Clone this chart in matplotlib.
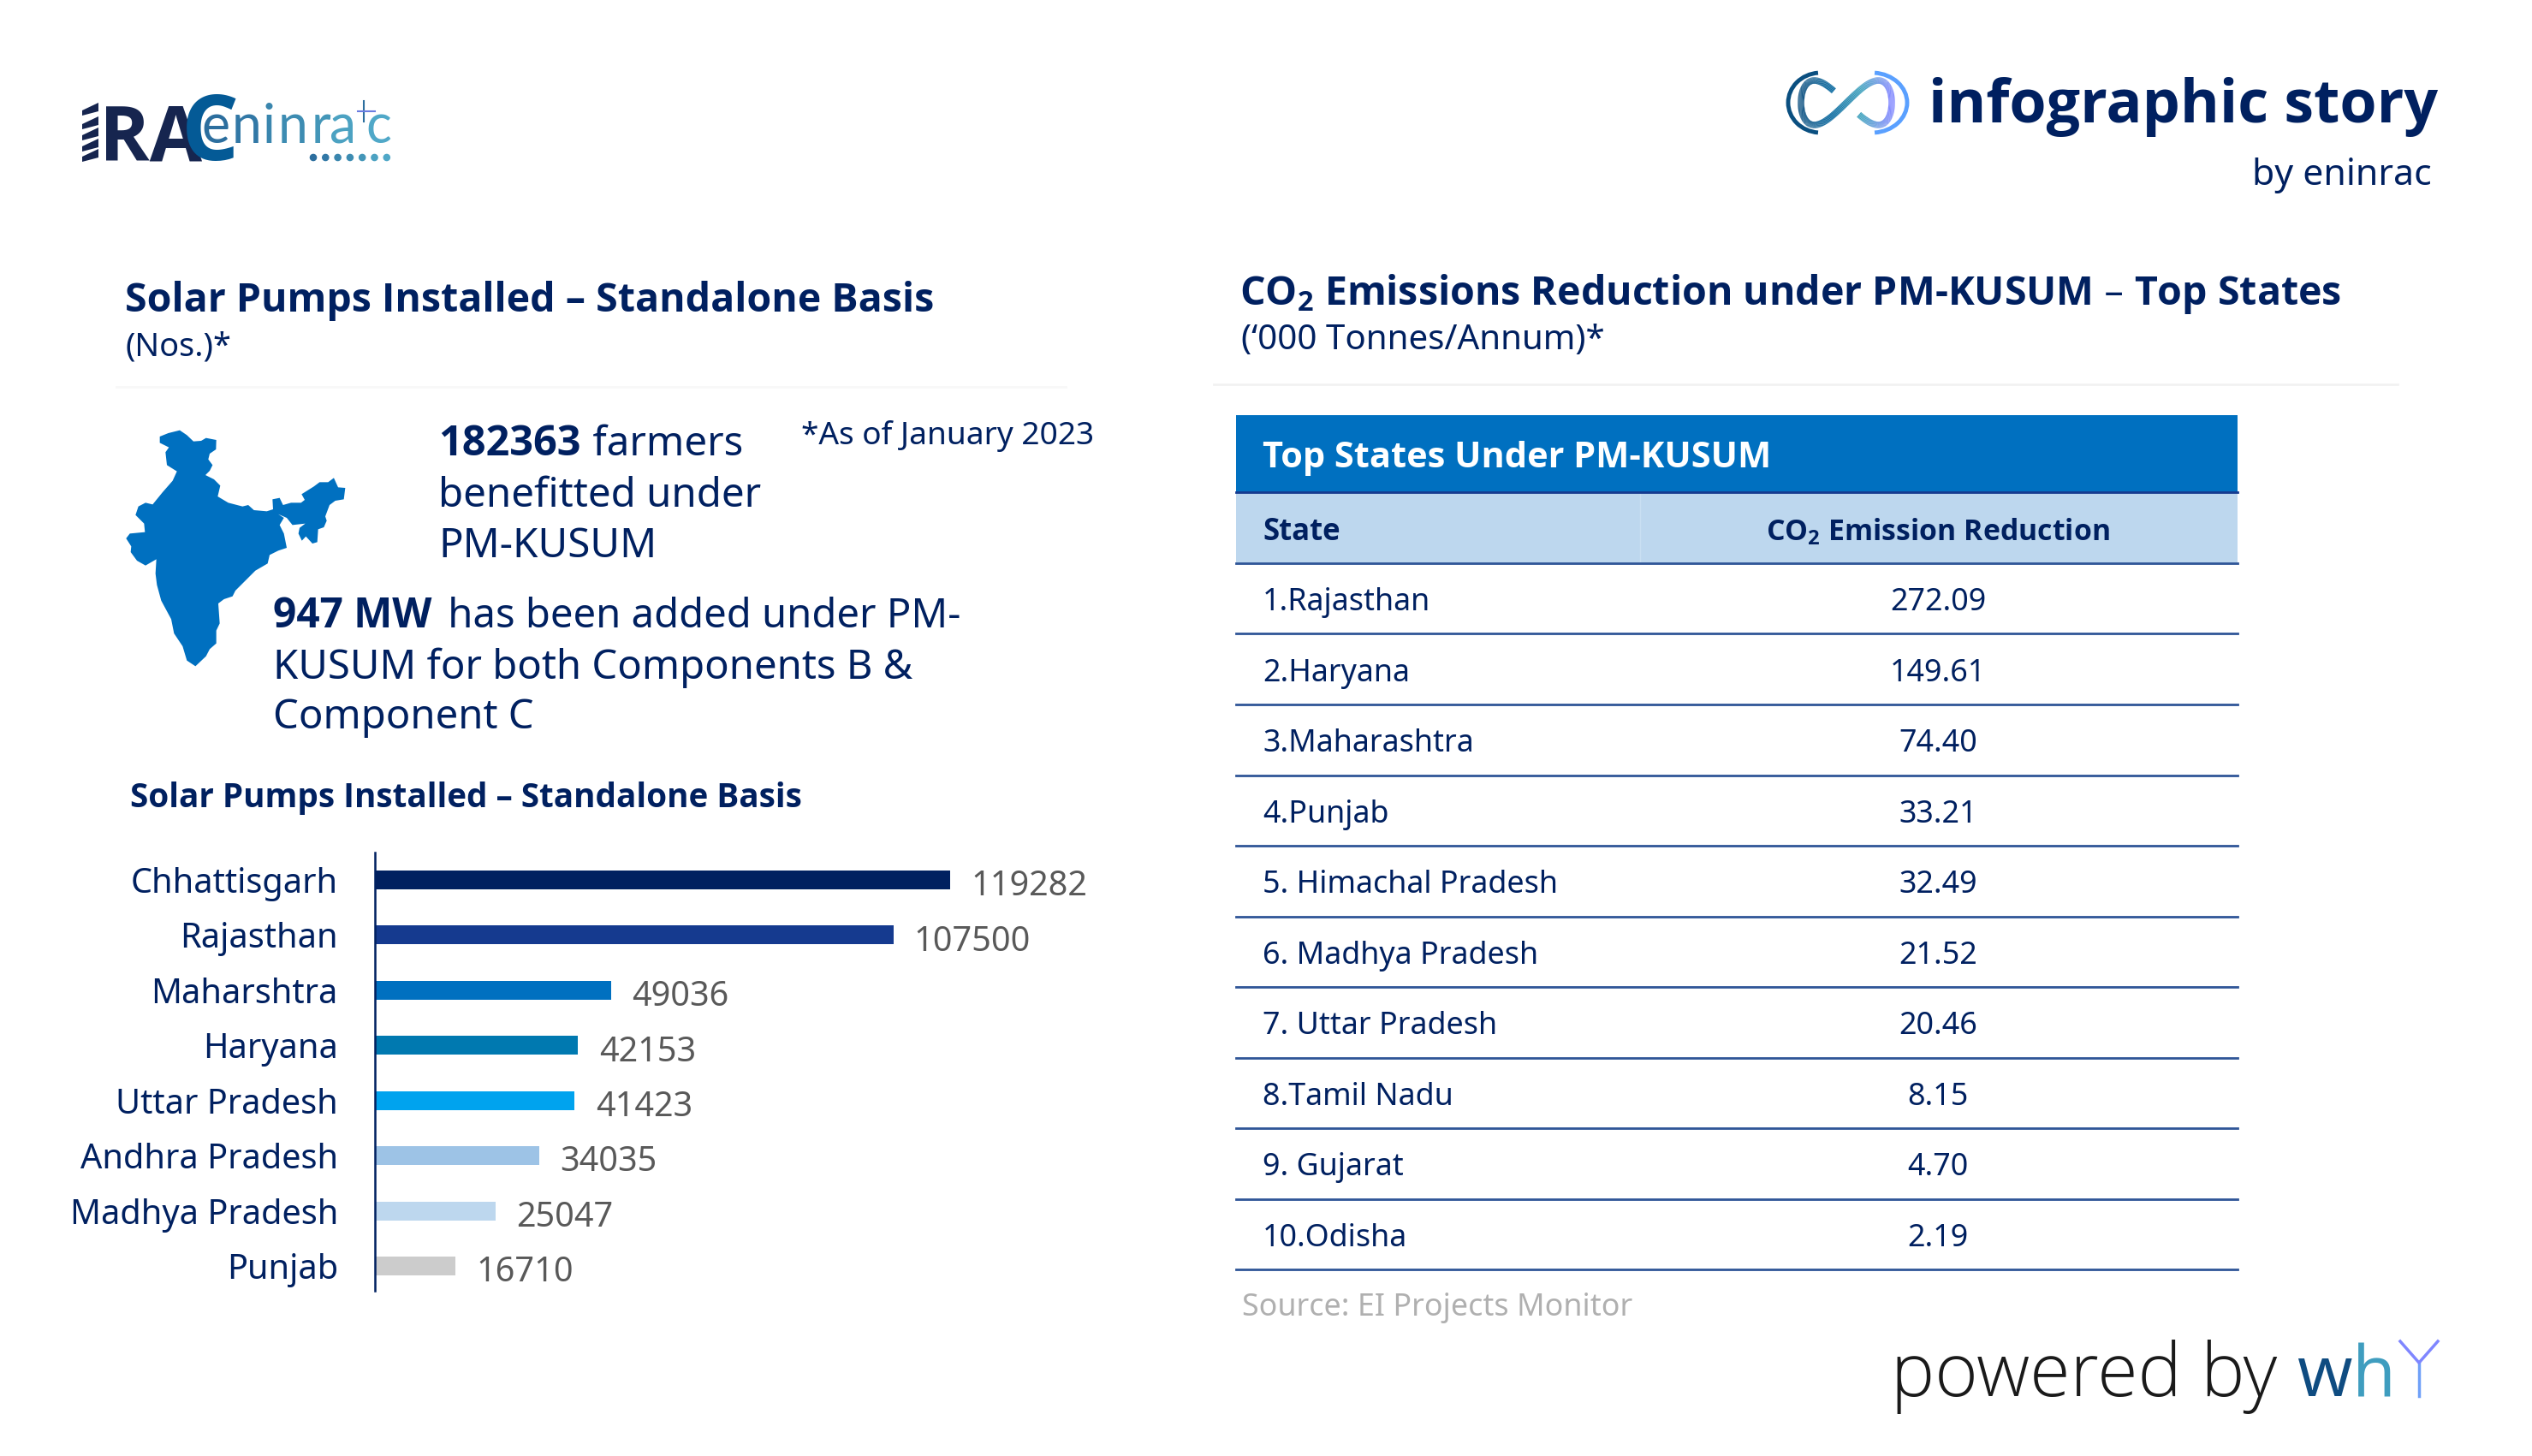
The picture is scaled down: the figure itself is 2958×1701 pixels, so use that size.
import numpy as np
import matplotlib
matplotlib.use("Agg")
import matplotlib.pyplot as plt
from matplotlib.patches import Polygon, Rectangle, Arc, Circle
from matplotlib.collections import LineCollection
from matplotlib.colors import LinearSegmentedColormap

W, H = 2958, 1701
NAVY = "#002060"
BLUE = "#0070C0"
GREY = "#595959"

# bar chart data
states = ["Chhattisgarh", "Rajasthan", "Maharshtra", "Haryana", "Uttar Pradesh",
          "Andhra Pradesh", "Madhya Pradesh", "Punjab"]
pumps = [119282, 107500, 49036, 42153, 41423, 34035, 25047, 16710]
bar_colors = ["#002060", "#153A8F", "#0070C0", "#0079B0", "#00A3EE", "#9DC3E6", "#BDD7EE", "#CCCCCC"]

# table data
table_states = ["1.Rajasthan", "2.Haryana", "3.Maharashtra", "4.Punjab", "5. Himachal Pradesh",
                "6. Madhya Pradesh", "7. Uttar Pradesh", "8.Tamil Nadu", "9. Gujarat", "10.Odisha"]
table_values = ["272.09", "149.61", "74.40", "33.21", "32.49", "21.52", "20.46", "8.15", "4.70", "2.19"]

# outline of the map, in zoomed pixels
india_x = [200, 230, 270, 295, 318, 345, 362, 398, 397, 375, 370, 385, 375, 360, 390, 412, 403, 440, 490, 510,
           530, 575, 597, 595, 620, 632, 660, 695, 708, 697, 740, 760, 790, 810, 825, 850, 845, 815, 795, 780,
           785, 775, 755, 752, 735, 712, 698, 686, 690, 710, 665, 645, 615, 635, 620, 635, 645, 615, 585, 578,
           535, 500, 465, 455, 425, 405, 410, 398, 398, 375, 362, 325, 295, 280, 250, 240, 205, 190, 185, 188,
           150, 120, 98, 100, 82, 95, 148, 145, 115, 125, 150, 175, 210, 245, 260, 225, 220, 232, 200]
india_y = [90, 78, 68, 85, 107, 105, 95, 102, 135, 150, 170, 190, 210, 225, 240, 262, 300, 322, 335, 330,
           348, 352, 345, 310, 305, 330, 322, 322, 312, 292, 265, 250, 250, 235, 268, 270, 310, 315, 330, 370,
           385, 408, 415, 460, 465, 440, 455, 430, 410, 395, 400, 375, 362, 375, 400, 430, 480, 490, 505, 535,
           560, 595, 630, 650, 660, 675, 745, 770, 815, 835, 860, 895, 875, 825, 780, 730, 665, 610, 570, 520,
           542, 525, 495, 475, 447, 430, 425, 395, 365, 335, 322, 328, 285, 245, 212, 190, 145, 128, 112]

plt.rcParams["font.family"] = ["Noto Sans", "DejaVu Sans"]
plt.rcParams["mathtext.default"] = "regular"

fig = plt.figure(figsize=(W / 100, H / 100), dpi=100, facecolor="white")

# full page axes in pixels for everything that is not the bars
page = fig.add_axes([0, 0, 1, 1])
page.set_xlim(0, W)
page.set_ylim(H, 0)
page.axis("off")


def txt(x, y, s, size, color=NAVY, weight="normal", ha="left", **kw):
    return page.text(x, y, s, fontsize=size, color=color, fontweight=weight, ha=ha, va="baseline", **kw)


def bold(x, y, s, size, color=NAVY, ha="left"):
    return txt(x, y, s, size, color=color, weight="bold", ha=ha, family="Open Sans")


# ---- eninrac logo
for y0 in [126, 142, 155, 168, 180]:
    page.add_patch(Polygon([(96, y0 + 3), (115, y0 - 6), (115, y0 + 4), (96, y0 + 9)], color="#16254F", lw=0))
bold(116, 187, "RA", 64, color="#16254F")
bold(212, 187, "C", 76, color="#045A96")
letters = ["e", "n", "i", "n", "r", "a", "c"]
letter_x = [235, 271, 307, 325, 364, 385, 427]
letter_c = ["#2C6E9E", "#3278A6", "#3A86AE", "#3D8CB2", "#4496B8", "#4CA2C2", "#50A8C8"]
for a, b, c in zip(letters, letter_x, letter_c):
    txt(b, 167, a, 45, color=c, family="Lato")
for k in range(7):
    page.add_patch(Circle((366 + k * 14.3, 184), 3.6, color=letter_c[k]))
page.plot([425, 425], [118, 142], color="#2C6E9E", lw=1.5)
page.plot([418, 438], [130, 130], color="#6A7CE0", lw=1.5)

# ---- infographic story logo
t = np.linspace(np.pi * 1.5 + 0.28, np.pi * 3.5 - 0.28, 300)
lx = 2157 + 53 * np.cos(t)
ly = 120 - 26 * np.sin(2 * t)
pts = np.column_stack([lx, ly]).reshape(-1, 1, 2)
segs = np.concatenate([pts[:-1], pts[1:]], axis=1)
grad = LinearSegmentedColormap.from_list("inf", ["#0A4F80", "#0B6AA0", "#45A5C0", "#7F86FF"])
lc = LineCollection(segs, cmap=grad, linewidths=5.5)
lc.set_array((lx[:-1] - lx.min()) / (lx.max() - lx.min()))
page.add_collection(lc)
page.add_patch(Arc((2127, 120), 76, 70, theta1=95, theta2=265, color="#0A4F80", lw=3.5))
page.add_patch(Arc((2187, 120), 82, 70, theta1=-85, theta2=85, color="#5AA0FF", lw=3.5))
bold(2253, 143, "infographic story", 50.3)
txt(2841, 216, "by eninrac", 30.8, ha="right")

# ---- left heading
bold(146, 364, "Solar Pumps Installed – Standalone Basis", 33.5)
txt(146, 415, "(Nos.)*", 27.3)
page.plot([136, 1245], [452, 452], color="#F8F8F8", lw=2)

# ---- map and callouts
page.add_patch(Polygon(np.column_stack([np.array(india_x) / 3 + 120, np.array(india_y) / 3 + 480]),
                       color=BLUE, lw=0))
bold(512, 532, "182363", 35)
txt(680, 532, " farmers", 34.2)
txt(512, 592, "benefitted under", 34.2)
txt(512, 651, "PM-KUSUM", 34.2)
txt(936, 519, "*As of January 2023", 26.7)
bold(319, 733, "947 MW", 34.4)
txt(511, 733, " has been added under PM-", 34)
txt(319, 793, "KUSUM for both Components B &", 34)
txt(319, 851, "Component C", 34)
bold(152, 943, "Solar Pumps Installed – Standalone Basis", 27.8)

# ---- bars
bar_left, bar_top, bar_bottom = 438, 996, 1508
ax_w = 900
ax = fig.add_axes([bar_left / W, (H - bar_bottom) / H, ax_w / W, (bar_bottom - bar_top) / H])
ax.patch.set_alpha(0)
y = np.arange(len(states))
ax.barh(y, pumps, height=0.34, color=bar_colors)
ax.set_xlim(0, ax_w * 119282 / 672)
ax.set_ylim(7.45, -0.497)
ax.set_yticks(y)
ax.set_yticklabels(states, fontsize=28.6, color=NAVY)
ax.tick_params(axis="y", length=0, pad=31)
ax.set_xticks([])
for side in ["top", "right", "bottom"]:
    ax.spines[side].set_visible(False)
ax.spines["left"].set_color(NAVY)
ax.spines["left"].set_linewidth(1.8)
for i, v in enumerate(pumps):
    ax.annotate(str(v), (v, i), xytext=(17.5, -6), textcoords="offset points",
                fontsize=28.5, color=GREY, va="center")

# ---- right heading
bold(1448, 356, "CO$_2$ Emissions Reduction under PM-KUSUM – Top States", 33.5)
txt(1450, 408, "(‘000 Tonnes/Annum)*", 29)
page.plot([1418, 2801], [449, 449], color="#F2F2F2", lw=2)

# ---- table
tl, tr, tdiv = 1444, 2614, 1916
page.add_patch(Rectangle((tl, 485), tr - tl, 90, color=BLUE, lw=0))
page.add_patch(Rectangle((tl, 575), tr - tl, 83, color="#BDD7EE", lw=0))
page.plot([tdiv, tdiv], [577, 656], color="#C9DFF2", lw=1)
page.plot([tl, tr], [575, 575], color="#153A8F", lw=2)
bold(1475, 546, "Top States Under PM-KUSUM", 29.9, color="white")
bold(1475, 631, "State", 25)
bold(2264, 631, "CO$_2$ Emission Reduction", 24.4, ha="center")
row_top, row_h = 658, 82.5
for i, (s, v) in enumerate(zip(table_states, table_values)):
    yb = row_top + row_h * i
    page.plot([tl, tr], [yb, yb], color="#2F5597", lw=2)
    txt(1475, yb + 55, s, 25.8)
    txt(2264, yb + 55, v, 25.8, ha="center")
page.plot([tl, tr], [row_top + row_h * 10] * 2, color="#2F5597", lw=2)

# ---- footer
txt(1451, 1537, "Source: EI Projects Monitor", 25.8, color="#B0B0B0", weight="light")
txt(2209, 1631, "powered by", 62, color="#1A1A1A", family="Open Sans", weight="light")
txt(2683, 1631, "w", 60, color="#0F4C81", family="Open Sans")
txt(2748, 1631, "h", 60, color="#3F9DBF", family="Open Sans")
page.plot([2826, 2826], [1592, 1631], color="#6FA0F8", lw=2.5)
page.plot([2804, 2826, 2848], [1567, 1592, 1567], color="#7F86FF", lw=2.5)

fig.savefig("out.png", dpi=100)
